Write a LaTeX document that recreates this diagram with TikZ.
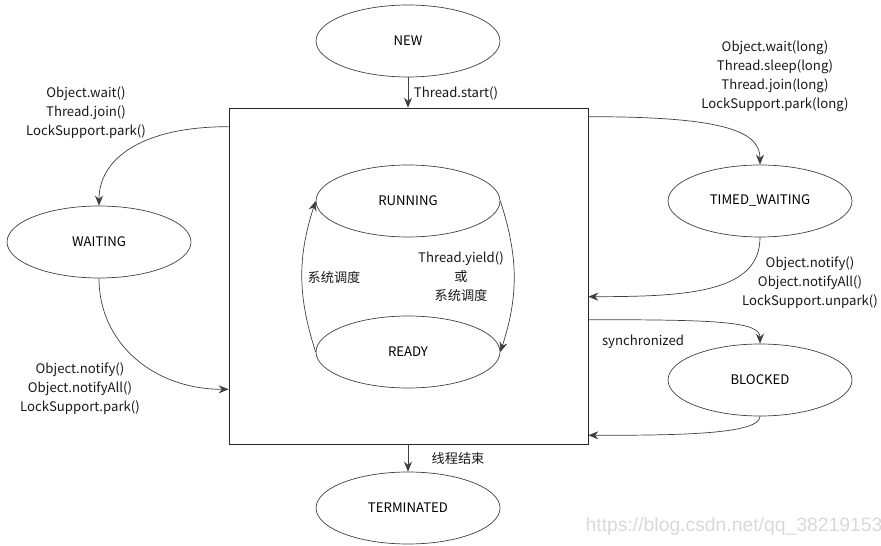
\documentclass[tikz,border=0pt]{standalone}
\usepackage{fontspec}
\setmainfont{Noto Sans CJK SC}
\newfontfamily\wmfont{Liberation Sans}
\usetikzlibrary{arrows.meta,positioning,shapes.geometric,calc}

\begin{document}
\begin{tikzpicture}[
    x=0.02cm, y=-0.02cm,
    font=\fontsize{7.5}{10.8}\selectfont,
    state/.style={draw=black!75, ellipse, minimum width=3.68cm, minimum height=1.44cm, inner sep=0pt},
    lbl/.style={align=center, text=black!90},
    arr/.style={-{Stealth[length=2mm, width=1.6mm]}, draw=black!75},
  ]
  \useasboundingbox (0,0) rectangle (881,546);

  % runnable box with running / ready
  \node[draw=black!85, minimum width=7.18cm, minimum height=6.72cm, inner sep=0pt] (box) at (408.5,276) {};
  \node[state] (running) at (408,201) {RUNNING};
  \node[state] (ready) at (408,352) {READY};
  \draw[arr] (ready.west) to[bend left=18] (running.west);
  \draw[arr] (running.east) to[bend left=18] (ready.east);
  \node[lbl] (sched) at (334,277) {系统调度};
  \node[lbl] (yield) at (461,277) {Thread.yield()\\或\\系统调度};

  % new / terminated
  \node[state] (new) at (408,41) {NEW};
  \node[state] (term) at (408,508) {TERMINATED};
  \draw[arr] (new.south) -- (new.south |- box.north);
  \node[lbl] (start) at (456,93) {Thread.start()};
  \draw[arr] (term.north |- box.south) -- (term.north);
  \node[lbl] (endl) at (458,458) {线程结束};

  % waiting
  \node[state] (waiting) at (99,242) {WAITING};
  \draw[arr] ($(box.north west)+(0,19)$) .. controls +(-90,0) and +(0,-45) .. (waiting.north);
  \node[lbl] (towait) at (86,113) {Object.wait()\\Thread.join()\\LockSupport.park()};
  \draw[arr] (waiting.south) .. controls +(0,65) and +(-75,0) .. ($(box.south west)+(0,-55)$);
  \node[lbl] (fromwait) at (80,389) {Object.notify()\\Object.notifyAll()\\LockSupport.park()};

  % timed waiting
  \node[state] (timed) at (760,201) {TIMED\_WAITING};
  \draw[arr] ($(box.north east)+(0,9)$) .. controls +(130,0) and +(0,-35) .. (timed.north);
  \node[lbl] (totimed) at (775,76) {Object.wait(long)\\Thread.sleep(long)\\Thread.join(long)\\LockSupport.park(long)};
  \draw[arr] (timed.south) .. controls +(0,55) and +(100,0) .. ($(box.north east)+(0,189)$);
  \node[lbl] (fromtimed) at (810,283) {Object.notify()\\Object.notifyAll()\\LockSupport.unpark()};

  % blocked
  \node[state] (blocked) at (760,380) {BLOCKED};
  \draw[arr] ($(box.north east)+(0,212)$) .. controls +(130,0) and +(0,-22) .. (blocked.north);
  \node[lbl] (sync) at (643,342) {synchronized};
  \draw[arr] (blocked.south) .. controls +(0,18) and +(90,0) .. ($(box.south east)+(0,-9)$);

  \node[text=black!15, font=\wmfont\fontsize{11}{13}\selectfont] (wm) at (734,527) {https://blog.csdn.net/qq\_38219153};
\end{tikzpicture}
\end{document}
